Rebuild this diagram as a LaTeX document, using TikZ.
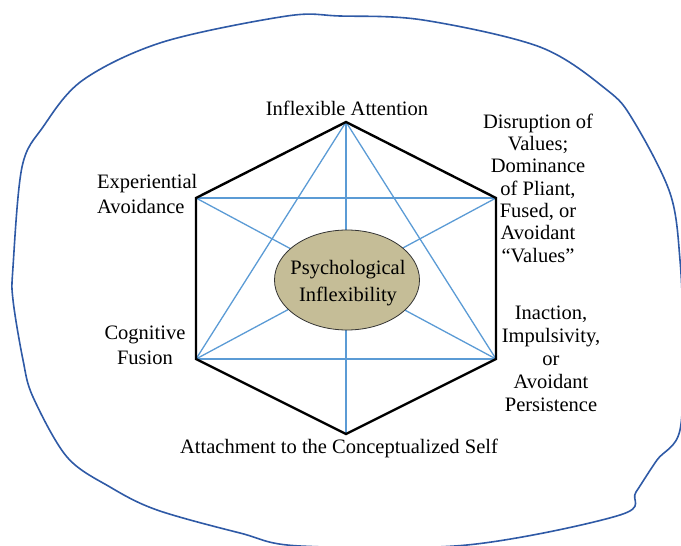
\documentclass[tikz,border=0pt]{standalone}
\usepackage{fontspec}
\setmainfont{Liberation Serif}
\usetikzlibrary{shapes,calc,positioning}
\definecolor{linkblue}{HTML}{5B9BD5}
\definecolor{loopblue}{HTML}{2F5AA6}
\definecolor{corefill}{HTML}{C5BD97}

\begin{document}
\begin{tikzpicture}[x=1pt,y=-1pt]
	\tikzstyle{hexedge} = [draw=black,line width=2.4pt,line join=miter]
	\tikzstyle{link} = [draw=linkblue,line width=1.3pt]
	\tikzstyle{loopline} = [draw=loopblue,line width=1.6pt,line join=round]
	\tikzstyle{core} = [ellipse,draw=black!80,line width=0.8pt,fill=corefill,minimum width=145pt,minimum height=100pt,inner sep=0pt]
	\tikzstyle{lbl} = [inner sep=0pt,font=\fontsize{20.5}{23}\selectfont]
	\useasboundingbox (0,0) rectangle (681,546);
		% Hexagon corners
		\coordinate (v_t) at (346,122);
		\coordinate (v_ur) at (496,198);
		\coordinate (v_lr) at (496,359);
		\coordinate (v_b) at (346,434);
		\coordinate (v_ll) at (196,359);
		\coordinate (v_ul) at (196,198);
		% Blue links
		\draw[link] (v_t) -- (v_b);
		\draw[link] (v_t) -- (v_ll);
		\draw[link] (v_t) -- (v_lr);
		\draw[link] (v_ul) -- (v_ur);
		\draw[link] (v_ll) -- (v_lr);
		\draw[link] (v_ul) -- (v_lr);
		\draw[link] (v_ur) -- (v_ll);
		% Centre
		\node[core] (core) at (347,280) {};
		\node[lbl,align=center,font=\fontsize{20.5}{27}\selectfont] (core_txt) at ($(core.center)+(1,3)$) {Psychological\\Inflexibility};
		% Hexagon
		\draw[hexedge] (v_t) -- (v_ur) -- (v_lr) -- (v_b) -- (v_ll) -- (v_ul) -- cycle;
		% Labels
		\node[lbl,anchor=base] (l_t) at (347,115) {Inflexible Attention};
		\node[lbl,anchor=base,align=center,font=\fontsize{20.5}{22.3}\selectfont] (l_ur) at (538,262) {Disruption of\\Values;\\Dominance\\of Pliant,\\Fused, or\\Avoidant\\``Values''};
		\node[lbl,anchor=base,align=center] (l_lr) at (551,411) {Inaction,\\Impulsivity,\\or\\Avoidant\\Persistence};
		\node[lbl,anchor=base] (l_b) at (339,453) {Attachment to the Conceptualized Self};
		\node[lbl,anchor=base west,align=left,font=\fontsize{20.5}{25}\selectfont] (l_ul) at (97,213) {Experiential\\Avoidance};
		\node[lbl,anchor=base,align=center,font=\fontsize{20.5}{25}\selectfont] (l_ll) at (145,364) {Cognitive\\Fusion};
		% Outer loop
		\draw[loopline] plot[smooth cycle,tension=0.55] coordinates {
			(287,16) (340,16) (423,20) (540,47) (607,90) (633,120) (670,193)
			(680,260) (683,340) (680,430) (657,460) (636,492) (620,515)
			(467,545) (300,546) (240,533) (157,510) (110,487) (67,457)
			(33,397) (23,360) (13,300) (13,267) (22,167) (43,127) (83,80) (163,42)};
\end{tikzpicture}
\end{document}
